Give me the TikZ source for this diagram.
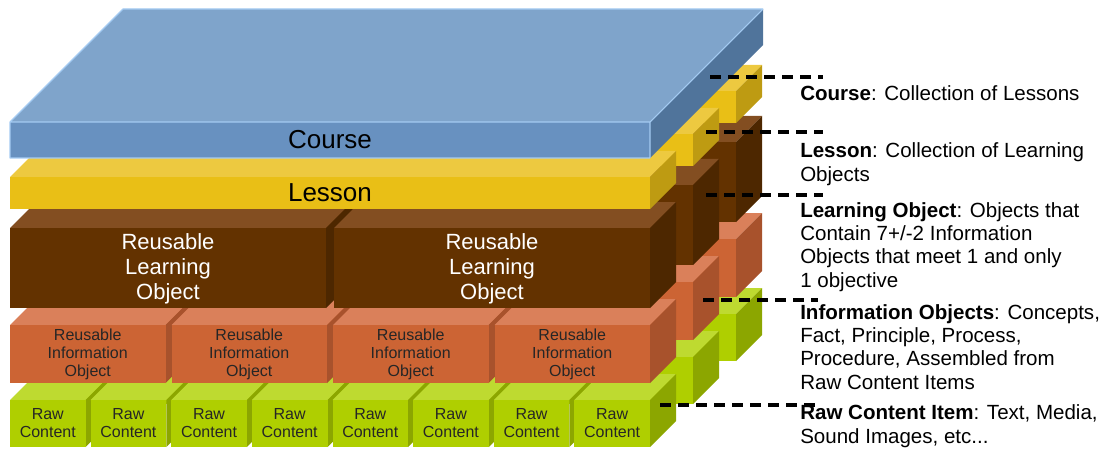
\documentclass[tikz,border=0pt]{standalone}
\usepackage{fontspec}
\setmainfont{Liberation Sans}

% colours of the five layers: top face, front face, side face
\definecolor{crsTop}{HTML}{7FA4CB}
\definecolor{crsFront}{HTML}{6891C0}
\definecolor{crsSide}{HTML}{50749B}
\definecolor{crsEdge}{HTML}{A4CBF2}
\definecolor{lsnTop}{HTML}{EDC940}
\definecolor{lsnFront}{HTML}{E9BF16}
\definecolor{lsnSide}{HTML}{BE9B12}
\definecolor{rloTop}{HTML}{834E21}
\definecolor{rloFront}{HTML}{633200}
\definecolor{rloSide}{HTML}{4D2700}
\definecolor{rioTop}{HTML}{DA805A}
\definecolor{rioFront}{HTML}{CC6434}
\definecolor{rioSide}{HTML}{A8522C}
\definecolor{rawTop}{HTML}{BEDA30}
\definecolor{rawFront}{HTML}{AFCF00}
\definecolor{rawSide}{HTML}{8CA600}

% one block: colour prefix, left, right, top, bottom, row shift, depth
\newcommand{\slab}[7]{%
  \fill[#1Top] ({#2+#6},{#4-#6}) -- ({#2+#6+#7},{#4-#6-#7}) -- ({#3+#6+#7},{#4-#6-#7}) -- ({#3+#6},{#4-#6}) -- cycle;
  \fill[#1Side] ({#3+#6},{#4-#6}) -- ({#3+#6+#7},{#4-#6-#7}) -- ({#3+#6+#7},{#5-#6-#7}) -- ({#3+#6},{#5-#6}) -- cycle;
  \fill[#1Front] ({#2+#6},{#4-#6}) rectangle ({#3+#6},{#5-#6});
}

\tikzset{
    bigtext/.style={
           inner sep=0pt,
           font=\fontsize{19.5}{22}\selectfont,
           },
    rlotext/.style={
           align=center,
           inner sep=0pt,
           text=white,
           font=\fontsize{16.5}{18.75}\selectfont,
           },
    smalltext/.style={
           align=center,
           inner sep=0pt,
           text=black!85,
           font=\fontsize{12}{13.6}\selectfont,
           },
    legend/.style={
           anchor=base west,   % base is the last line
           align=left,
           inner sep=0pt,
           font=\fontsize{15.4}{17.5}\selectfont,
           },
    leader/.style={
           draw=black,
           line width=2.6pt,
           dash pattern=on 8.5pt off 5pt,
           },
}

\begin{document}
\begin{tikzpicture}[x=0.75pt, y=-0.75pt]
  \useasboundingbox (0,0) rectangle (1108,453);

  % bottom layer first, back rows first, left to right
  \foreach \row in {86,43,0}{
    \foreach \i in {0,...,7}{
      \pgfmathsetmacro{\xl}{10+\i*80.625}
      \slab{raw}{\xl}{\xl+75.625}{400}{447}{\row}{26}
    }
  }
  \foreach \row in {86,43,0}{
    \foreach \i in {0,...,3}{
      \pgfmathsetmacro{\xl}{10+\i*161.5}
      \slab{rio}{\xl}{\xl+155.5}{325}{383}{\row}{26}
    }
  }
  \foreach \row in {86,43,0}{
    \foreach \i in {0,1}{
      \pgfmathsetmacro{\xl}{10+\i*324}
      \slab{rlo}{\xl}{\xl+316}{228}{308}{\row}{26}
    }
  }
  \foreach \row in {86,43,0}{
    \slab{lsn}{10}{650}{177}{209}{\row}{26}
  }

  % the course plate covers all rows
  \slab{crs}{10}{650}{122}{158}{0}{113}
  \draw[crsEdge, line width=0.8pt, line join=round]
    (650,158) -- (10,158) -- (10,122) -- (123,9) -- (763,9)
    (10,122) -- (650,122) -- (763,9) (650,122) -- (650,158);

  % labels on the front faces
  \node[bigtext] (COURSE) at (330,140) {Course};
  \node[bigtext] (LESSON) at (330,193) {Lesson};
  \foreach \i in {1,2}{
    \node[rlotext] (RLO\i) at ({10+(\i-1)*324+158},269) {Reusable\\Learning\\Object};
  }
  \foreach \i in {1,...,4}{
    \node[smalltext] (RIO\i) at ({10+(\i-1)*161.5+77.75},354) {Reusable\\Information\\Object};
  }
  \foreach \i in {1,...,8}{
    \node[smalltext] (RAW\i) at ({10+(\i-1)*80.625+37.8},423.5) {Raw\\Content};
  }

  % leaders to the legend
  \coordinate (crsA) at (710,77);  \coordinate (crsB) at (823,77);
  \coordinate (lsnA) at (706,132); \coordinate (lsnB) at (823,132);
  \coordinate (rloA) at (706,195); \coordinate (rloB) at (823,195);
  \coordinate (rioA) at (703,300); \coordinate (rioB) at (818,300);
  \coordinate (rawA) at (660,405); \coordinate (rawB) at (816,405);
  \draw[leader] (crsA) -- (crsB);
  \draw[leader] (lsnA) -- (lsnB);
  \draw[leader] (rloA) -- (rloB);
  \draw[leader] (rioA) -- (rioB);
  \draw[leader] (rawA) -- (rawB);

  % legend text, placed at the baseline of the last line
  \node[legend] (COURSEINFO) at (800,101) {\textbf{Course}: Collection of Lessons};
  \node[legend] (LESSONINFO) at (800,181) {\textbf{Lesson}: Collection of Learning\\Objects};
  \node[legend] (RLOINFO) at (800,287) {\textbf{Learning Object}: Objects that\\Contain 7+/-2 Information\\Objects that meet 1 and only\\1 objective};
  \node[legend] (RIOINFO) at (800,389) {\textbf{Information Objects}: Concepts,\\Fact, Principle, Process,\\Procedure, Assembled from\\Raw Content Items};
  \node[legend] (RAWINFO) at (800,443) {\textbf{Raw Content Item}: Text, Media,\\Sound Images, etc...};

\end{tikzpicture}
\end{document}
